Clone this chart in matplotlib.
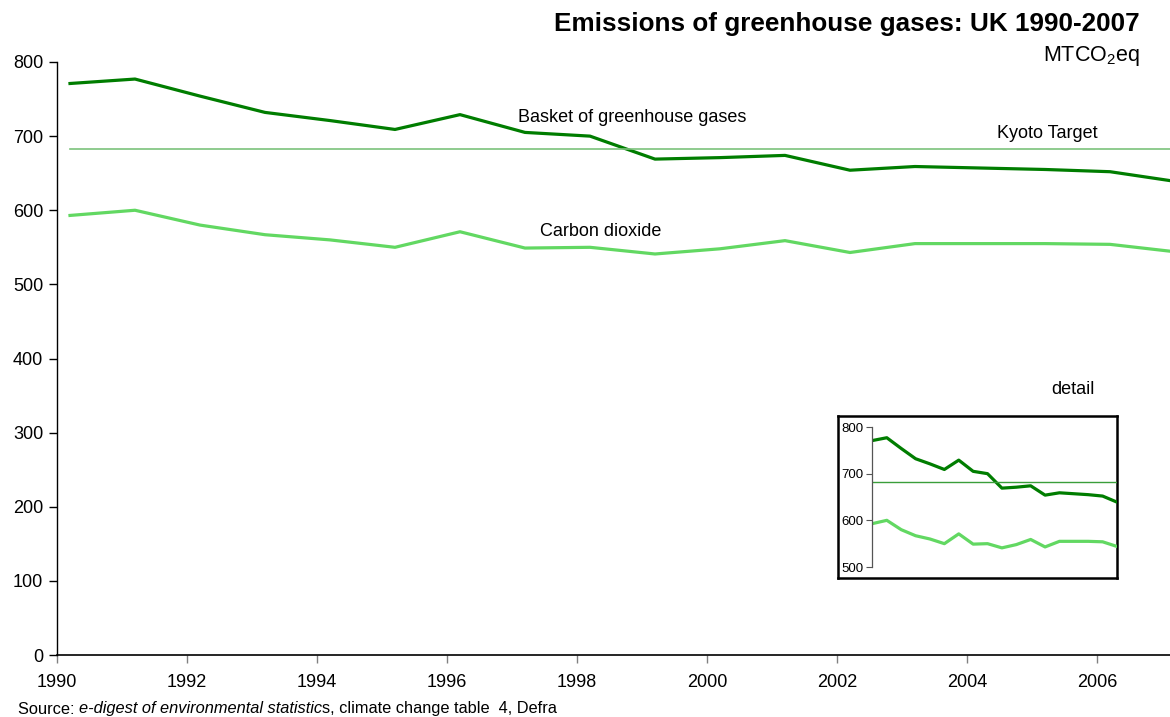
import matplotlib
matplotlib.use("Agg")
import matplotlib.pyplot as plt

plt.rcParams['font.family'] = ['Liberation Sans', 'DejaVu Sans']
plt.rcParams['mathtext.fontset'] = 'custom'
plt.rcParams['mathtext.rm'] = 'Liberation Sans'
plt.rcParams['mathtext.it'] = 'Liberation Sans:italic'

# data (million tonnes CO2 equivalent)
years = list(range(1990, 2008))
ghg = [771, 777, 754, 732, 721, 709, 729, 705, 700, 669, 671, 674, 654, 659, 657, 655, 652, 639]
co2 = [593, 600, 580, 567, 560, 550, 571, 549, 550, 541, 548, 559, 543, 555, 555, 555, 554, 544]
kyoto = 682
xticks = list(range(1990, 2007, 2))
yticks = list(range(0, 801, 100))
inset_yticks = [500, 600, 700, 800]

dark = '#007d00'
light = '#62d862'
W, H = 1170, 717

fig = plt.figure(figsize=(W / 100, H / 100), dpi=100)

# main axes
ax = fig.add_axes([57 / W, 1 - 655 / H, (W - 57) / W, (655 - 62) / H])
x = [y + 0.2 for y in years]  # points sit a little after the year mark
ax.plot(x, ghg, color=dark, lw=2.3)
ax.plot(x, co2, color=light, lw=2.3)
ax.plot([x[0], x[-1]], [kyoto, kyoto], color='#7cc27c', lw=1.2)

ax.set_xlim(1990, 1990 + (W - 57) / 65)
ax.set_ylim(0, 800)
ax.set_xticks(xticks)
ax.set_yticks(yticks)
ax.tick_params(axis='both', labelsize=13, direction='out', length=6, width=1)
ax.tick_params(axis='x', color='#808080', pad=8)
ax.tick_params(axis='y', pad=4)
for s in ['top', 'right']:
    ax.spines[s].set_visible(False)
ax.spines['left'].set_linewidth(1)
ax.spines['bottom'].set_linewidth(1.2)

ax.text(1997.1, 725, 'Basket of greenhouse gases', fontsize=13, va='center')
ax.text(1997.43, 572, 'Carbon dioxide', fontsize=13, va='center')
ax.text(2004.46, 703, 'Kyoto Target', fontsize=13, va='center')

fig.text(1140 / W, 1 - 24 / H, 'Emissions of greenhouse gases: UK 1990-2007',
         fontsize=18.8, fontweight='bold', ha='right', va='center')
fig.text(1140 / W, 1 - 56 / H, r'MTCO$_2$eq', fontsize=15.5, ha='right', va='center')
fig.text(1073 / W, 1 - 389 / H, 'detail', fontsize=13, ha='center', va='center')

# inset box and detail plot
box = fig.add_axes([838 / W, 1 - 578 / H, (1117 - 838) / W, (578 - 416) / H])
box.set_xticks([])
box.set_yticks([])
for s in box.spines.values():
    s.set_linewidth(1.8)
    s.set_color('black')

ins = fig.add_axes([872 / W, 1 - 567 / H, (1117 - 872) / W, (567 - 427) / H])
ins.patch.set_alpha(0)
idx = list(range(len(years)))
ins.plot(idx, ghg, color=dark, lw=2.3)
ins.plot(idx, co2, color=light, lw=2.3)
ins.plot([idx[0], idx[-1]], [kyoto, kyoto], color='#3a9e3a', lw=1)
ins.set_xlim(-0.03, 17)
ins.set_ylim(500, 800)
ins.set_yticks(inset_yticks)
ins.set_xticks([])
ins.tick_params(axis='y', labelsize=9.5, length=4, width=0.8, pad=2, color='#555555')
for s in ['top', 'right', 'bottom']:
    ins.spines[s].set_visible(False)
ins.spines['left'].set_color('#555555')
ins.spines['left'].set_linewidth(0.9)

# source line with italic part
renderer = fig.canvas.get_renderer()
parts = [('Source: ', 'normal'), ('e-digest of environmental statistic', 'italic'),
         ('s, climate change table  4, Defra', 'normal')]
xpos = 18
for txt, style in parts:
    t = fig.text(xpos / W, 1 - 709 / H, txt, fontsize=11.8, style=style, va='center')
    bb = t.get_window_extent(renderer=renderer)
    xpos += bb.width

fig.savefig('out.png', dpi=100)
